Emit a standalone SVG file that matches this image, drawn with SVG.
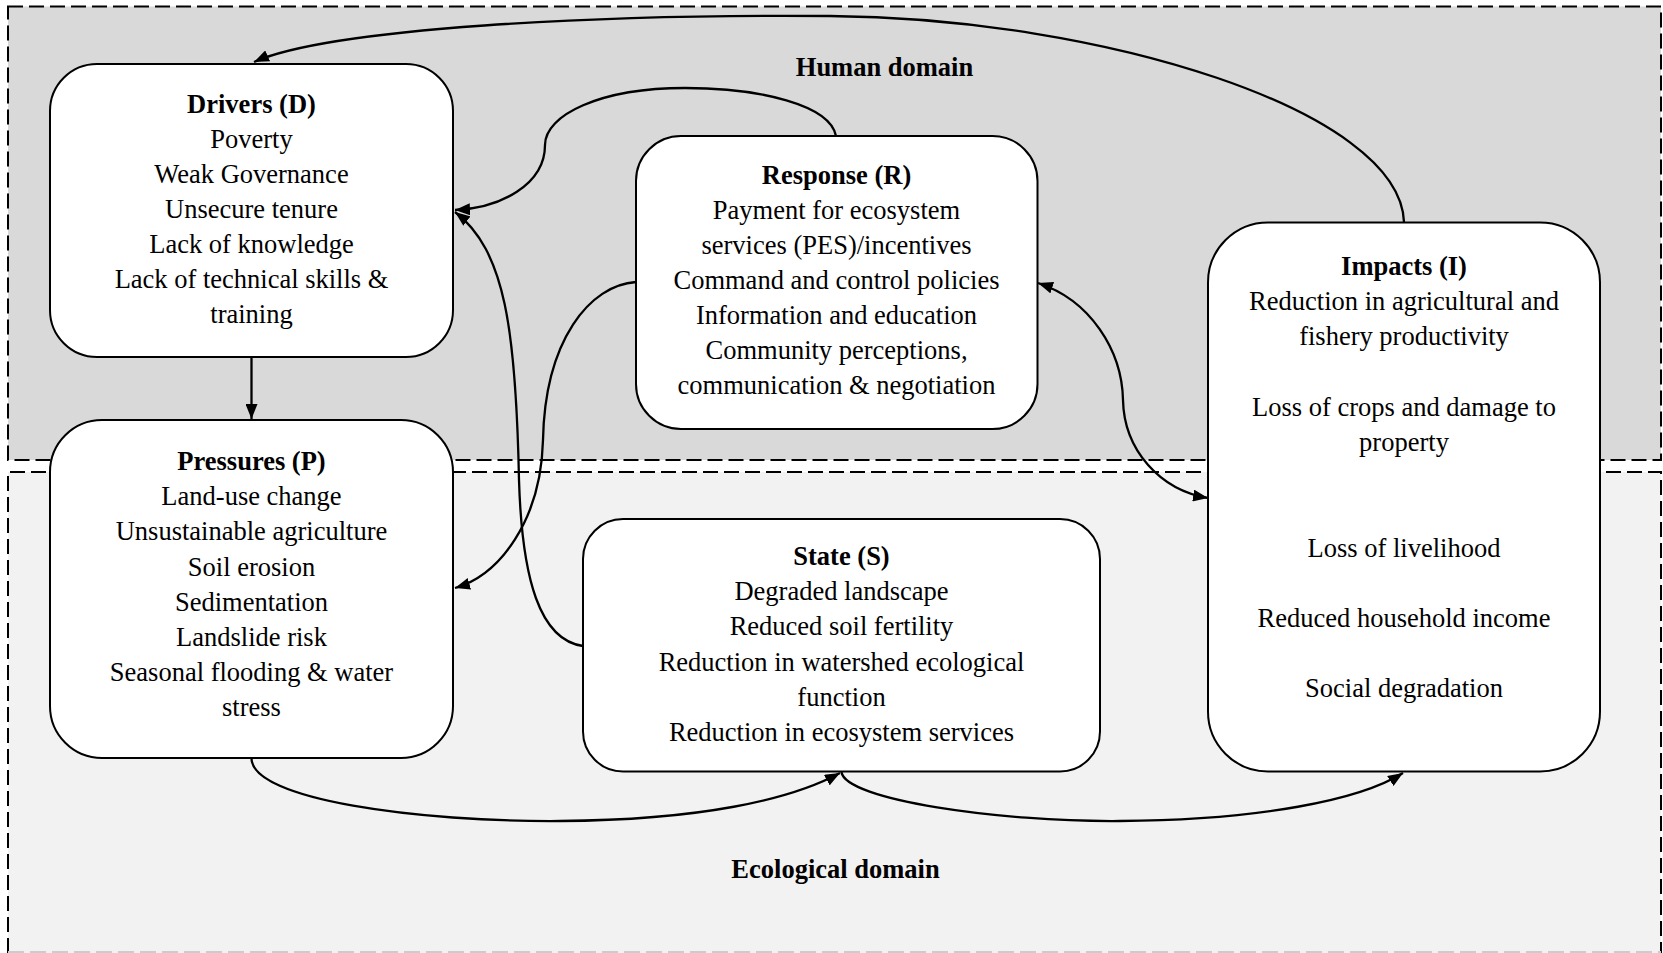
<svg xmlns="http://www.w3.org/2000/svg" width="1663" height="953" viewBox="0 0 1663 953">
<style>
.dom{fill:none;stroke:#000;stroke-width:2;stroke-dasharray:15 6}
.box{fill:#fff;stroke:#000;stroke-width:2}
.t{font-family:"Liberation Serif","Times New Roman",serif;font-size:26.5px;fill:#000;text-anchor:middle}
.b{font-weight:bold}
.c{fill:none;stroke:#000;stroke-width:2.3}
</style>
<defs>
<marker id="ah" markerUnits="userSpaceOnUse" markerWidth="16" markerHeight="12" refX="15" refY="6" orient="auto-start-reverse">
<path d="M0,0 L15,6 L0,12 z" fill="#000"/>
</marker>
</defs>
<rect width="1663" height="953" fill="#fff"/>
<g id="human-domain">
<rect x="8" y="6.5" width="1653" height="453.5" fill="#d9d9d9"/>
<rect class="dom" x="8" y="6.5" width="1653" height="453.5"/>
<text class="t b" x="884.5" y="76">Human domain</text>
</g>
<g id="ecological-domain">
<rect x="8" y="472" width="1653" height="481" fill="#f2f2f2"/>
<path class="dom" d="M8,953 L8,472 L1661,472 L1661,953"/>
<path d="M8,952 L1661,952" fill="none" stroke="#cccccc" stroke-width="2" stroke-dasharray="16 6"/>
<text class="t b" x="835.5" y="878">Ecological domain</text>
</g>
<g id="connectors">
<path class="c" d="M1404,222 C1400,110 1100,18 830,16 C600,14 330,28 254,62" marker-end="url(#ah)"/>
<path class="c" d="M836,136 C830,105 760,88 685,88 C600,88 545,115 545,145 C545,185 500,208 455,210" marker-end="url(#ah)"/>
<path class="c" d="M583,646 C540,640 522,580 519,480 C516,330 505,250 455,212" marker-end="url(#ah)"/>
<path class="c" d="M636,282 C590,285 545,340 543,440 C541,520 500,575 455,588" marker-end="url(#ah)"/>
<path class="c" d="M1038,283 C1090,300 1122,350 1123,400 C1124,450 1160,490 1208,498" marker-start="url(#ah)" marker-end="url(#ah)"/>
<path class="c" d="M251.5,758 C251,800 420,822 560,821 C700,820 790,800 840,773" marker-end="url(#ah)"/>
<path class="c" d="M841.5,772 C845,800 1000,822 1120,821 C1260,820 1360,800 1403,773" marker-end="url(#ah)"/>
<path class="c" d="M251.5,357 L251.5,419" marker-end="url(#ah)"/>
</g>
<g id="drivers">
<rect class="box" x="50" y="64" width="403" height="293" rx="47"/>
<text class="t b" x="251.5" y="113">Drivers (D)</text>
<text class="t" x="251.5" y="148">Poverty</text>
<text class="t" x="251.5" y="183">Weak Governance</text>
<text class="t" x="251.5" y="218">Unsecure tenure</text>
<text class="t" x="251.5" y="253">Lack of knowledge</text>
<text class="t" x="251.5" y="288">Lack of technical skills &amp;</text>
<text class="t" x="251.5" y="323">training</text>
</g>
<g id="pressures">
<rect class="box" x="50" y="420" width="403" height="338" rx="52"/>
<text class="t b" x="251.5" y="470">Pressures (P)</text>
<text class="t" x="251.5" y="505">Land-use change</text>
<text class="t" x="251.5" y="540">Unsustainable agriculture</text>
<text class="t" x="251.5" y="575.5">Soil erosion</text>
<text class="t" x="251.5" y="610.5">Sedimentation</text>
<text class="t" x="251.5" y="646">Landslide risk</text>
<text class="t" x="251.5" y="681">Seasonal flooding &amp; water</text>
<text class="t" x="251.5" y="716">stress</text>
</g>
<g id="response">
<rect class="box" x="636" y="136" width="401.5" height="293" rx="45"/>
<text class="t b" x="836.5" y="184">Response (R)</text>
<text class="t" x="836.5" y="218.5">Payment for ecosystem</text>
<text class="t" x="836.5" y="253.5">services (PES)/incentives</text>
<text class="t" x="836.5" y="289">Command and control policies</text>
<text class="t" x="836.5" y="324">Information and education</text>
<text class="t" x="836.5" y="359">Community perceptions,</text>
<text class="t" x="836.5" y="394">communication &amp; negotiation</text>
</g>
<g id="state">
<rect class="box" x="583" y="519" width="517" height="252.5" rx="40"/>
<text class="t b" x="841.5" y="565">State (S)</text>
<text class="t" x="841.5" y="600">Degraded landscape</text>
<text class="t" x="841.5" y="635">Reduced soil fertility</text>
<text class="t" x="841.5" y="670.5">Reduction in watershed ecological</text>
<text class="t" x="841.5" y="705.5">function</text>
<text class="t" x="841.5" y="741">Reduction in ecosystem services</text>
</g>
<g id="impacts">
<rect class="box" x="1208" y="222.5" width="392" height="549" rx="60"/>
<text class="t b" x="1404" y="275">Impacts (I)</text>
<text class="t" x="1404" y="310">Reduction in agricultural and</text>
<text class="t" x="1404" y="345">fishery productivity</text>
<text class="t" x="1404" y="415.5">Loss of crops and damage to</text>
<text class="t" x="1404" y="450.5">property</text>
<text class="t" x="1404" y="556.5">Loss of livelihood</text>
<text class="t" x="1404" y="627">Reduced household income</text>
<text class="t" x="1404" y="697">Social degradation</text>
</g>
</svg>
